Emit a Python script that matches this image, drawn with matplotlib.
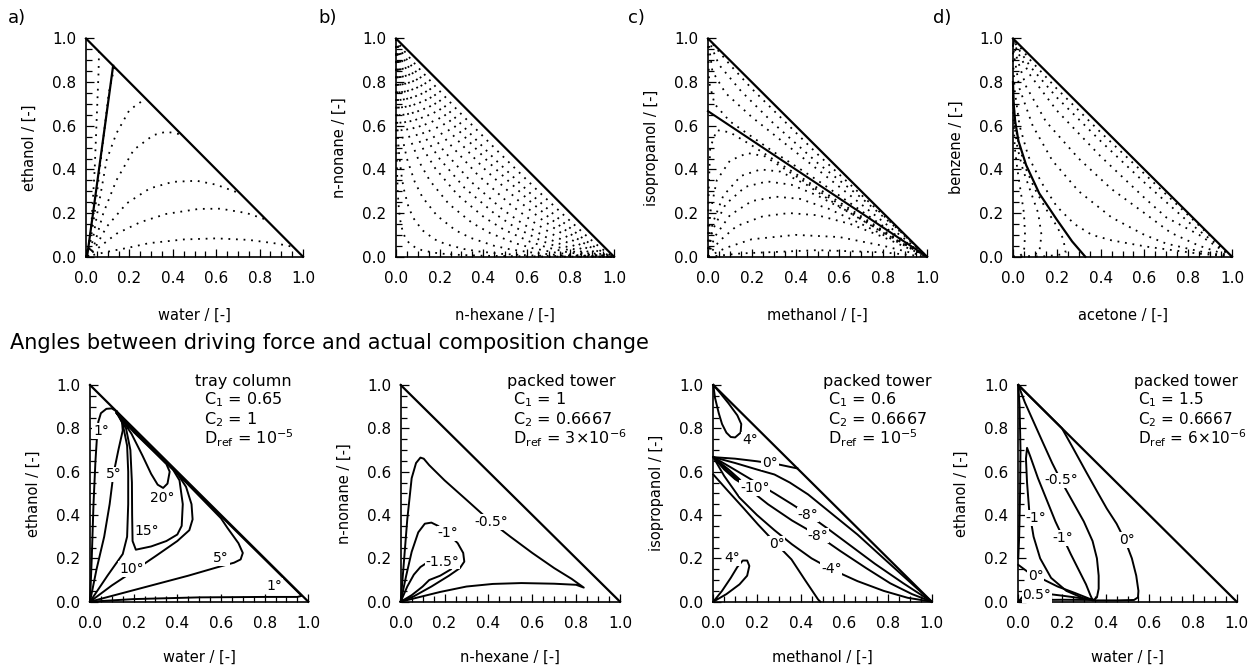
import matplotlib
matplotlib.use("Agg")
import matplotlib.pyplot as plt
from matplotlib.ticker import MultipleLocator, FormatStrFormatter

plt.rcParams['font.family'] = ['DejaVu Sans']
plt.rcParams['mathtext.fontset'] = 'dejavusans'

# ---------------- labels ----------------
panel_letters = ["a)", "b)", "c)", "d)"]
top_xlabels = ["water / [-]", "n-hexane / [-]", "methanol / [-]", "acetone / [-]"]
top_ylabels = ["ethanol / [-]", "n-nonane / [-]", "isopropanol / [-]", "benzene / [-]"]
bot_xlabels = ["water / [-]", "n-hexane / [-]", "methanol / [-]", "water / [-]"]
bot_ylabels = ["ethanol / [-]", "n-nonane / [-]", "isopropanol / [-]", "ethanol / [-]"]
title_text = "Angles between driving force and actual composition change"
annot_a = ["tray column", r"C$_1$ = 0.65", r"C$_2$ = 1", r"D$_{\rm ref}$ = 10$^{-5}$"]
annot_b = ["packed tower", r"C$_1$ = 1", r"C$_2$ = 0.6667", r"D$_{\rm ref}$ = 3×10$^{-6}$"]
annot_c = ["packed tower", r"C$_1$ = 0.6", r"C$_2$ = 0.6667", r"D$_{\rm ref}$ = 10$^{-5}$"]
annot_d = ["packed tower", r"C$_1$ = 1.5", r"C$_2$ = 0.6667", r"D$_{\rm ref}$ = 6×10$^{-6}$"]

# ---------------- top a: ethanol / water residue curves ----------------
ta_boundary = [(0.005, 0.0), (0.125, 0.875)]
ta_r1 = [(0.0, 0.0), (0.05, 0.012), (0.12, 0.027), (0.19, 0.04), (0.29, 0.062), (0.45, 0.079), (0.6, 0.084), (0.75, 0.077), (0.88, 0.06), (0.955, 0.045)]
ta_r2 = [(0.0, 0.0), (0.03, 0.02), (0.064, 0.046), (0.14, 0.105), (0.25, 0.158), (0.37, 0.196), (0.52, 0.219), (0.62, 0.22), (0.74, 0.2), (0.83, 0.17)]
ta_r3 = [(0.0, 0.0), (0.025, 0.02), (0.05, 0.055), (0.095, 0.137), (0.187, 0.244), (0.294, 0.313), (0.4, 0.343), (0.51, 0.348), (0.6, 0.33), (0.71, 0.29)]
ta_r4 = [(0.0, 0.0), (0.02, 0.02), (0.04, 0.06), (0.08, 0.2), (0.14, 0.35), (0.22, 0.49), (0.31, 0.557), (0.37, 0.573), (0.44, 0.56)]
ta_r5 = [(0.0, 0.0), (0.015, 0.02), (0.03, 0.07), (0.057, 0.229), (0.095, 0.443), (0.14, 0.565), (0.2, 0.672), (0.275, 0.725)]
ta_r6 = [(0.0, 0.0), (0.01, 0.03), (0.025, 0.15), (0.04, 0.4), (0.052, 0.7), (0.058, 0.85), (0.06, 0.94)]
ta_r7 = [(0.01, 0.0), (0.04, 0.2), (0.075, 0.5), (0.105, 0.75), (0.13, 0.865)]

# ---------------- top b: n-hexane / n-nonane residue curves ----------------
tb_r1 = [(0, 1), (0.0008, 0.677), (0.0041, 0.41), (0.0081, 0.293), (0.0135, 0.216), (0.0189, 0.17), (0.0298, 0.119), (0.0405, 0.0912), (0.061, 0.061), (0.0912, 0.0405), (0.119, 0.0298), (0.17, 0.0189), (0.216, 0.0135), (0.293, 0.0081), (0.41, 0.0041), (0.677, 0.0008), (1, 0)]
tb_r2 = [(0, 1), (0.001, 0.827), (0.006, 0.612), (0.013, 0.483), (0.024, 0.381), (0.035, 0.313), (0.057, 0.229), (0.079, 0.178), (0.121, 0.121), (0.178, 0.079), (0.229, 0.057), (0.313, 0.035), (0.381, 0.024), (0.483, 0.013), (0.612, 0.006), (0.827, 0.001), (1, 0)]
tb_r3 = [(0, 1), (0.001, 0.899), (0.007, 0.744), (0.018, 0.632), (0.033, 0.527), (0.05, 0.45), (0.086, 0.343), (0.121, 0.273), (0.188, 0.188), (0.273, 0.121), (0.343, 0.086), (0.45, 0.05), (0.527, 0.033), (0.632, 0.018), (0.744, 0.007), (0.899, 0.001), (1, 0)]
tb_r4 = [(0, 1), (0.001, 0.933), (0.008, 0.818), (0.02, 0.723), (0.039, 0.627), (0.061, 0.549), (0.108, 0.432), (0.155, 0.349), (0.242, 0.242), (0.349, 0.155), (0.432, 0.108), (0.549, 0.061), (0.627, 0.039), (0.723, 0.02), (0.818, 0.008), (0.933, 0.001), (1, 0)]
tb_r5 = [(0, 1), (0.001, 0.95), (0.009, 0.859), (0.022, 0.779), (0.043, 0.691), (0.068, 0.616), (0.124, 0.495), (0.18, 0.405), (0.283, 0.283), (0.405, 0.18), (0.495, 0.124), (0.616, 0.068), (0.691, 0.043), (0.779, 0.022), (0.859, 0.009), (0.95, 0.001), (1, 0)]
tb_r6 = [(0, 1), (0.001, 0.962), (0.009, 0.887), (0.023, 0.817), (0.046, 0.737), (0.074, 0.665), (0.136, 0.544), (0.2, 0.449), (0.315, 0.315), (0.449, 0.2), (0.544, 0.136), (0.665, 0.074), (0.737, 0.046), (0.817, 0.023), (0.887, 0.009), (0.962, 0.001), (1, 0)]
tb_r7 = [(0, 1), (0.001, 0.97), (0.009, 0.908), (0.024, 0.848), (0.048, 0.775), (0.079, 0.707), (0.147, 0.587), (0.217, 0.488), (0.344, 0.344), (0.488, 0.217), (0.587, 0.147), (0.707, 0.079), (0.775, 0.048), (0.848, 0.024), (0.908, 0.009), (0.97, 0.001), (1, 0)]
tb_r8 = [(0, 1), (0.001, 0.977), (0.009, 0.929), (0.024, 0.878), (0.051, 0.814), (0.083, 0.75), (0.158, 0.632), (0.235, 0.529), (0.375, 0.375), (0.529, 0.235), (0.632, 0.158), (0.75, 0.083), (0.814, 0.051), (0.878, 0.024), (0.929, 0.009), (0.977, 0.001), (1, 0)]
tb_r9 = [(0, 1), (0.01, 0.945), (0.025, 0.903), (0.053, 0.847), (0.088, 0.788), (0.168, 0.672), (0.252, 0.567), (0.404, 0.404), (0.567, 0.252), (0.672, 0.168), (0.788, 0.088), (0.847, 0.053), (0.903, 0.025), (0.945, 0.01), (1, 0)]
tb_r10 = [(0, 1), (0.01, 0.958), (0.026, 0.923), (0.055, 0.873), (0.091, 0.818), (0.176, 0.706), (0.267, 0.6), (0.429, 0.429), (0.6, 0.267), (0.706, 0.176), (0.818, 0.091), (0.873, 0.055), (0.923, 0.026), (0.958, 0.01), (1, 0)]
tb_r11 = [(0, 1), (0.01, 0.968), (0.026, 0.939), (0.056, 0.894), (0.094, 0.844), (0.184, 0.735), (0.279, 0.628), (0.45, 0.45), (0.628, 0.279), (0.735, 0.184), (0.844, 0.094), (0.894, 0.056), (0.939, 0.026), (0.968, 0.01), (1, 0)]
tb_r12 = [(0, 1), (0.01, 0.98), (0.027, 0.957), (0.057, 0.918), (0.097, 0.872), (0.192, 0.768), (0.293, 0.66), (0.475, 0.475), (0.66, 0.293), (0.768, 0.192), (0.872, 0.097), (0.918, 0.057), (0.957, 0.027), (0.98, 0.01), (1, 0)]

# ---------------- top c: methanol / isopropanol residue curves ----------------
tc_boundary = [(0.0, 0.667), (1.0, 0.0)]
tc_u1 = [(0, 1), (0.1, 0.88), (0.2, 0.77), (0.35, 0.62), (0.5, 0.47), (0.65, 0.33), (0.8, 0.19), (1, 0)]
tc_u2 = [(0, 1), (0.05, 0.88), (0.15, 0.76), (0.3, 0.61), (0.5, 0.43), (0.7, 0.27), (0.85, 0.14), (1, 0)]
tc_u3 = [(0, 1), (0.02, 0.85), (0.08, 0.75), (0.2, 0.64), (0.4, 0.48), (0.6, 0.32), (0.8, 0.16), (1, 0)]
tc_u4 = [(0, 1), (0.005, 0.8), (0.03, 0.7), (0.1, 0.62), (0.3, 0.48), (0.5, 0.35), (0.7, 0.21), (0.9, 0.07), (1, 0)]
tc_l1 = [(0, 0), (0.003, 0.3), (0.01, 0.5), (0.04, 0.58), (0.1, 0.57), (0.2, 0.51), (0.4, 0.38), (0.6, 0.25), (0.8, 0.12), (1, 0)]
tc_l2 = [(0, 0), (0.01, 0.2), (0.04, 0.35), (0.1, 0.44), (0.18, 0.475), (0.26, 0.46), (0.4, 0.37), (0.6, 0.24), (0.8, 0.115), (1, 0)]
tc_l3 = [(0, 0), (0.02, 0.15), (0.07, 0.28), (0.15, 0.37), (0.24, 0.4), (0.33, 0.39), (0.45, 0.33), (0.6, 0.23), (0.8, 0.11), (1, 0)]
tc_l4 = [(0, 0), (0.02, 0.12), (0.08, 0.24), (0.17, 0.32), (0.27, 0.345), (0.38, 0.33), (0.5, 0.28), (0.65, 0.2), (0.82, 0.1), (1, 0)]
tc_l5 = [(0, 0), (0.03, 0.09), (0.1, 0.19), (0.2, 0.255), (0.31, 0.275), (0.42, 0.265), (0.55, 0.22), (0.7, 0.15), (0.85, 0.075), (1, 0)]
tc_l6 = [(0, 0), (0.05, 0.07), (0.13, 0.14), (0.25, 0.185), (0.37, 0.2), (0.5, 0.19), (0.65, 0.15), (0.8, 0.09), (1, 0)]
tc_l7 = [(0, 0), (0.08, 0.04), (0.2, 0.08), (0.4, 0.1), (0.6, 0.09), (0.8, 0.05), (1, 0)]
tc_l8 = [(0, 0), (0.15, 0.015), (0.5, 0.03), (0.8, 0.02), (1, 0)]

# ---------------- top d: acetone / benzene residue curves ----------------
td_boundary = [(0.0, 0.8), (0.003, 0.7), (0.01, 0.62), (0.025, 0.53), (0.06, 0.42), (0.12, 0.29), (0.2, 0.17), (0.27, 0.07), (0.33, 0.0)]
td_r1 = [(1, 0), (0.8, 0.19), (0.6, 0.38), (0.4, 0.57), (0.2, 0.77), (0.08, 0.9), (0, 1)]
td_r2 = [(1, 0), (0.8, 0.16), (0.6, 0.34), (0.4, 0.53), (0.2, 0.73), (0.08, 0.87), (0.02, 0.96), (0, 1)]
td_r3 = [(1, 0), (0.85, 0.1), (0.7, 0.18), (0.6, 0.27), (0.4, 0.46), (0.2, 0.67), (0.08, 0.83), (0.02, 0.94), (0, 1)]
td_r4 = [(1, 0), (0.85, 0.05), (0.72, 0.11), (0.6, 0.2), (0.45, 0.31), (0.3, 0.45), (0.15, 0.62), (0.06, 0.78), (0.015, 0.92), (0, 1)]
td_r5 = [(1, 0), (0.85, 0.025), (0.7, 0.06), (0.6, 0.1), (0.45, 0.18), (0.3, 0.3), (0.18, 0.44), (0.09, 0.6), (0.03, 0.77), (0.005, 0.92), (0, 1)]
td_r6 = [(1, 0), (0.84, 0.015), (0.61, 0.046), (0.45, 0.075), (0.36, 0.1), (0.28, 0.15), (0.2, 0.23), (0.13, 0.34), (0.07, 0.46), (0.03, 0.6), (0.008, 0.76), (0, 0.9), (0, 1)]
td_l1 = [(0, 0), (0.03, 0.003), (0.05, 0.02), (0.055, 0.1), (0.05, 0.2), (0.035, 0.3), (0.02, 0.4), (0.008, 0.5), (0.002, 0.65), (0, 0.8)]
td_l2 = [(0, 0), (0.08, 0.002), (0.12, 0.02), (0.13, 0.1), (0.115, 0.2), (0.08, 0.3), (0.045, 0.4), (0.02, 0.5), (0.007, 0.6), (0, 0.75)]
td_l3 = [(0, 0), (0.15, 0.002), (0.22, 0.01), (0.24, 0.02), (0.23, 0.08), (0.2, 0.14), (0.15, 0.22), (0.1, 0.31), (0.06, 0.4), (0.03, 0.5), (0.01, 0.6), (0, 0.75)]

# ---------------- bottom a: tray column contours ----------------
ba_1_left = [(0.0, 0.0), (0.008, 0.2), (0.016, 0.45), (0.025, 0.65), (0.032, 0.76), (0.038, 0.83), (0.05, 0.87), (0.075, 0.89), (0.1, 0.892), (0.122, 0.878)]
ba_1_right = [(0.0, 0.0), (0.2, 0.012), (0.5, 0.02), (0.8, 0.022), (0.95, 0.022), (0.97, 0.027), (0.7, 0.295), (0.4, 0.594), (0.122, 0.873)]
ba_5_left = [(0.0, 0.0), (0.03, 0.15), (0.065, 0.3), (0.09, 0.45), (0.107, 0.587), (0.13, 0.7), (0.15, 0.79), (0.145, 0.85), (0.122, 0.878)]
ba_5_right = [(0.0, 0.0), (0.15, 0.04), (0.3, 0.08), (0.45, 0.12), (0.58, 0.158), (0.66, 0.18), (0.69, 0.195), (0.7, 0.225), (0.68, 0.27), (0.63, 0.34), (0.6, 0.385), (0.45, 0.54), (0.3, 0.692), (0.2, 0.794), (0.122, 0.875)]
ba_10_left = [(0.0, 0.0), (0.08, 0.12), (0.15, 0.22), (0.17, 0.3), (0.175, 0.45), (0.175, 0.6), (0.17, 0.72), (0.15, 0.82), (0.122, 0.878)]
ba_10_right = [(0.0, 0.0), (0.1, 0.075), (0.19, 0.135), (0.3, 0.21), (0.4, 0.28), (0.455, 0.33), (0.47, 0.38), (0.465, 0.45), (0.44, 0.53), (0.4, 0.592), (0.3, 0.69), (0.2, 0.79), (0.122, 0.872)]
ba_15 = [(0.122, 0.87), (0.165, 0.8), (0.185, 0.7), (0.192, 0.55), (0.193, 0.4), (0.195, 0.28), (0.21, 0.24), (0.28, 0.255), (0.35, 0.28), (0.4, 0.31), (0.42, 0.35), (0.425, 0.45), (0.41, 0.56), (0.38, 0.61), (0.3, 0.688), (0.2, 0.787), (0.122, 0.87)]
ba_20 = [(0.135, 0.858), (0.19, 0.775), (0.24, 0.675), (0.28, 0.59), (0.31, 0.54), (0.335, 0.525), (0.355, 0.545), (0.365, 0.6), (0.35, 0.635), (0.3, 0.685), (0.2, 0.783), (0.135, 0.858)]
ba_labels = [(0.05, 0.787, "1°"), (0.107, 0.587, "5°"), (0.33, 0.48, "20°"), (0.26, 0.326, "15°"),
             (0.19, 0.15, "10°"), (0.6, 0.2, "5°"), (0.845, 0.072, "1°")]

# ---------------- bottom b: n-hexane / n-nonane contours ----------------
bb_05 = [(0, 0), (0.012, 0.15), (0.03, 0.38), (0.05, 0.57), (0.07, 0.64), (0.09, 0.665), (0.105, 0.66), (0.13, 0.63), (0.2, 0.56), (0.3, 0.47), (0.41, 0.37), (0.5, 0.3), (0.6, 0.225), (0.7, 0.155), (0.78, 0.105), (0.835, 0.065), (0.8, 0.078), (0.7, 0.083), (0.55, 0.086), (0.42, 0.082), (0.3, 0.07), (0.18, 0.045), (0.08, 0.02), (0, 0)]
bb_1 = [(0, 0), (0.025, 0.12), (0.05, 0.23), (0.08, 0.32), (0.11, 0.36), (0.14, 0.365), (0.17, 0.35), (0.22, 0.31), (0.26, 0.27), (0.285, 0.225), (0.29, 0.185), (0.27, 0.155), (0.22, 0.12), (0.14, 0.07), (0.06, 0.025), (0, 0)]
bb_15 = [(0, 0), (0.03, 0.07), (0.06, 0.125), (0.09, 0.16), (0.12, 0.18), (0.19, 0.185), (0.235, 0.175), (0.23, 0.15), (0.18, 0.12), (0.13, 0.1), (0.1, 0.07), (0.05, 0.03), (0, 0)]
bb_labels = [(0.415, 0.368, "-0.5°"), (0.215, 0.315, "-1°"), (0.19, 0.185, "-1.5°")]

# ---------------- bottom c: methanol / isopropanol contours ----------------
bc_4_top = [(0, 1), (0.008, 0.94), (0.025, 0.87), (0.04, 0.82), (0.06, 0.78), (0.08, 0.76), (0.1, 0.758), (0.125, 0.78), (0.128, 0.82), (0.11, 0.86), (0.07, 0.915), (0.03, 0.965), (0, 1)]
bc_0_upper = [(0, 0.667), (0.1, 0.66), (0.2, 0.648), (0.3, 0.633), (0.385, 0.615)]
bc_a = [(0, 0.667), (0.1, 0.64), (0.2, 0.61), (0.28, 0.587), (0.35, 0.55), (0.434, 0.495), (0.55, 0.4), (0.66, 0.31), (0.78, 0.2), (0.89, 0.1), (1, 0)]
bc_8_upper = [(0, 0.667), (0.08, 0.62), (0.18, 0.56), (0.28, 0.5), (0.36, 0.45), (0.434, 0.402), (0.52, 0.34), (0.62, 0.265), (0.74, 0.175), (0.87, 0.085), (1, 0)]
bc_8_lower = [(0, 0.667), (0.07, 0.6), (0.15, 0.53), (0.25, 0.45), (0.36, 0.375), (0.48, 0.305), (0.58, 0.235), (0.7, 0.155), (0.81, 0.085), (0.91, 0.035), (1, 0)]
bc_4_mid = [(0, 0.667), (0.05, 0.58), (0.12, 0.48), (0.2, 0.4), (0.28, 0.33), (0.36, 0.265), (0.45, 0.2), (0.54, 0.15), (0.66, 0.095), (0.78, 0.05), (0.89, 0.018), (1, 0)]
bc_10 = [(0, 0.667), (0.05, 0.61), (0.1, 0.565), (0.14, 0.54), (0.12, 0.565), (0.07, 0.61), (0, 0.667)]
bc_0_lower = [(0, 0.587), (0.068, 0.51), (0.14, 0.43), (0.205, 0.356), (0.29, 0.265), (0.358, 0.195), (0.42, 0.1), (0.48, 0.01), (0.49, 0.0)]
bc_4_bottom = [(0, 0), (0.04, 0.05), (0.08, 0.11), (0.11, 0.16), (0.135, 0.19), (0.155, 0.19), (0.165, 0.165), (0.155, 0.12), (0.12, 0.08), (0.06, 0.035), (0, 0)]
bc_labels = [(0.167, 0.748, "4°"), (0.26, 0.642, "0°"), (0.19, 0.525, "-10°"), (0.434, 0.402, "-8°"),
             (0.48, 0.305, "-8°"), (0.29, 0.268, "0°"), (0.54, 0.15, "-4°"), (0.085, 0.2, "4°")]

# ---------------- bottom d: water / ethanol contours ----------------
bd_0 = [(0, 1), (0.1, 0.9), (0.2, 0.8), (0.25, 0.71), (0.31, 0.6), (0.36, 0.51), (0.405, 0.43), (0.45, 0.36), (0.49, 0.28), (0.52, 0.2), (0.54, 0.12), (0.55, 0.05), (0.548, 0.02), (0.53, 0.008), (0.45, 0.006), (0.34, 0.006)]
bd_m05 = [(0, 1), (0.03, 0.92), (0.07, 0.83), (0.11, 0.74), (0.155, 0.64), (0.2, 0.55), (0.25, 0.46), (0.3, 0.37), (0.34, 0.28), (0.36, 0.2), (0.368, 0.12), (0.368, 0.06), (0.36, 0.02), (0.345, 0.008)]
bd_m1 = [(0.34, 0.008), (0.3, 0.015), (0.22, 0.05), (0.15, 0.11), (0.1, 0.2), (0.07, 0.3), (0.05, 0.42), (0.04, 0.55), (0.035, 0.66), (0.04, 0.71), (0.055, 0.67), (0.09, 0.57), (0.13, 0.47), (0.17, 0.37), (0.205, 0.295), (0.24, 0.22), (0.28, 0.14), (0.31, 0.08), (0.33, 0.03), (0.34, 0.008)]
bd_0_small = [(0, 0.17), (0.04, 0.14), (0.068, 0.126), (0.1, 0.11), (0.18, 0.07), (0.26, 0.04), (0.33, 0.012)]
bd_05 = [(0.005, 0.005), (0.025, 0.03), (0.05, 0.042), (0.1, 0.04), (0.2, 0.028), (0.28, 0.017), (0.34, 0.01)]
bd_05b = [(0.005, 0.005), (0.1, 0.008), (0.2, 0.009), (0.34, 0.008)]
bd_axis = [(0, 1), (0.006, 0.9), (0.01, 0.7), (0.008, 0.5), (0.004, 0.3), (0, 0.2)]
bd_labels = [(0.195, 0.56, "-0.5°"), (0.08, 0.385, "-1°"), (0.205, 0.295, "-1°"), (0.5, 0.285, "0°"),
             (0.08, 0.12, "0°"), (0.085, 0.032, "0.5°")]

# =====================================================================
W, H = 1251, 668
fig = plt.figure(figsize=(W / 100, H / 100), dpi=100)
fig.patch.set_facecolor("white")

DOT = (0, (1, 3.2))


def add_axes(px_left, px_right, px_bottom, px_top):
    return fig.add_axes([px_left / W, 1 - px_bottom / H,
                         (px_right - px_left) / W, (px_bottom - px_top) / H])


def style(ax, xlabel, ylabel, xpad):
    ax.set_xlim(0, 1)
    ax.set_ylim(0, 1)
    ax.spines['top'].set_visible(False)
    ax.spines['right'].set_visible(False)
    for s in ('left', 'bottom'):
        ax.spines[s].set_linewidth(1.2)
    for axis in (ax.xaxis, ax.yaxis):
        axis.set_major_locator(MultipleLocator(0.2))
        axis.set_minor_locator(MultipleLocator(0.05))
        axis.set_major_formatter(FormatStrFormatter('%.1f'))
    ax.tick_params(which='both', direction='in', width=0.9, colors='black')
    ax.tick_params(which='major', length=6)
    ax.tick_params(which='minor', length=4)
    ax.tick_params(axis='x', which='major', pad=10, labelsize=11)
    ax.tick_params(axis='y', which='major', pad=7, labelsize=11)
    ax.set_xlabel(xlabel, fontsize=10.5, labelpad=xpad)
    ax.set_ylabel(ylabel, fontsize=10.5, labelpad=11)
    ax.plot([0, 1], [1, 0], color='black', lw=1.6, clip_on=False)
    ax.patch.set_visible(False)


def draw(ax, pts, ls='-', lw=1.3):
    xs = [p[0] for p in pts]
    ys = [p[1] for p in pts]
    ax.plot(xs, ys, color='black', lw=lw, ls=ls, clip_on=False)


def clab(ax, items):
    for x, y, s in items:
        ax.text(x, y, s, fontsize=10, ha='center', va='center', zorder=6,
                bbox=dict(fc='white', ec='none', pad=0.6))


def annot(ax, xt, xc, lines, fs=11.5):
    ax.text(xt, 0.995, lines[0], fontsize=fs, ha='left', va='baseline', clip_on=False)
    for yy, s in zip([0.912, 0.818, 0.725], lines[1:]):
        ax.text(xc, yy, s, fontsize=fs, ha='left', va='baseline', clip_on=False)


top_boxes = [(86, 303), (396, 614), (708, 927), (1013, 1232)]
bot_boxes = [(90, 308.3), (400.7, 620), (713.3, 931.7), (1018.3, 1236.7)]

top_axes = []
for (l, r), xl, yl in zip(top_boxes, top_xlabels, top_ylabels):
    ax = add_axes(l, r, 256.7, 38.5)
    style(ax, xl, yl, 16)
    top_axes.append(ax)

bot_axes = []
for (l, r), xl, yl in zip(bot_boxes, bot_xlabels, bot_ylabels):
    ax = add_axes(l, r, 601.7, 385)
    style(ax, xl, yl, 13.5)
    bot_axes.append(ax)

# panel letters and title
for s, px in zip(panel_letters, [8, 318, 628, 933]):
    fig.text(px / W, 1 - 23 / H, s, fontsize=13, ha='left', va='baseline')
fig.text(10 / W, 1 - 349 / H, title_text, fontsize=15, ha='left', va='baseline')

# ---- top panels ----
ax = top_axes[0]
for c in [ta_r1, ta_r2, ta_r3, ta_r4, ta_r5, ta_r6, ta_r7]:
    draw(ax, c, ls=DOT, lw=1.3)
draw(ax, ta_boundary, lw=1.6)

ax = top_axes[1]
for c in [tb_r1, tb_r2, tb_r3, tb_r4, tb_r5, tb_r6, tb_r7, tb_r8, tb_r9, tb_r10, tb_r11, tb_r12]:
    draw(ax, c, ls=DOT, lw=1.3)

ax = top_axes[2]
for c in [tc_u1, tc_u2, tc_u3, tc_u4, tc_l1, tc_l2, tc_l3, tc_l4, tc_l5, tc_l6, tc_l7, tc_l8]:
    draw(ax, c, ls=DOT, lw=1.3)
draw(ax, tc_boundary, lw=1.5)

ax = top_axes[3]
for c in [td_r1, td_r2, td_r3, td_r4, td_r5, td_r6, td_l1, td_l2, td_l3]:
    draw(ax, c, ls=DOT, lw=1.3)
draw(ax, td_boundary, lw=1.6)

# ---- bottom panels ----
ax = bot_axes[0]
for c in [ba_1_left, ba_1_right, ba_5_left, ba_5_right, ba_10_left, ba_10_right, ba_15, ba_20]:
    draw(ax, c, lw=1.4)
clab(ax, ba_labels)
annot(ax, 0.481, 0.522, annot_a)

ax = bot_axes[1]
for c in [bb_05, bb_1, bb_15]:
    draw(ax, c, lw=1.4)
clab(ax, bb_labels)
annot(ax, 0.483, 0.513, annot_b)

ax = bot_axes[2]
for c in [bc_4_top, bc_0_upper, bc_a, bc_8_upper, bc_8_lower, bc_4_mid, bc_10, bc_0_lower, bc_4_bottom]:
    draw(ax, c, lw=1.4)
clab(ax, bc_labels)
annot(ax, 0.501, 0.527, annot_c)

ax = bot_axes[3]
for c in [bd_0, bd_m05, bd_m1, bd_0_small, bd_05, bd_05b, bd_axis]:
    draw(ax, c, lw=1.4)
clab(ax, bd_labels)
annot(ax, 0.530, 0.550, annot_d, fs=11)

fig.savefig("out.png", dpi=100, facecolor="white")
